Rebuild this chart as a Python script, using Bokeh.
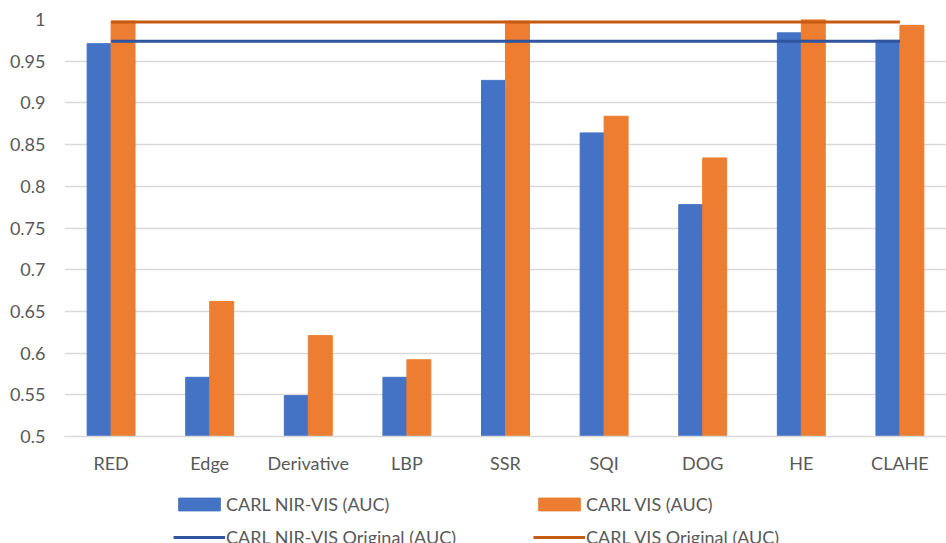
from bokeh.plotting import figure
from bokeh.layouts import column
from bokeh.models import (FactorRange, Range1d, FixedTicker, NumeralTickFormatter,
                          Legend, LegendItem, ColumnDataSource)
from bokeh.transform import dodge
from bokeh.embed import file_html
from bokeh.resources import INLINE

# AUC per preprocessing method
categories = ["RED", "Edge", "Derivative", "LBP", "SSR", "SQI", "DOG", "HE", "CLAHE"]
nir_vis_auc = [0.971, 0.571, 0.549, 0.571, 0.927, 0.864, 0.778, 0.984, 0.975]
vis_auc = [0.998, 0.662, 0.621, 0.592, 0.998, 0.884, 0.834, 1.000, 0.993]

# reference AUC without preprocessing
nir_vis_original = 0.974
vis_original = 0.997

y_ticks = [0.5, 0.55, 0.6, 0.65, 0.7, 0.75, 0.8, 0.85, 0.9, 0.95, 1.0]

BLUE = "#4472C4"
ORANGE = "#ED7D31"
BLUE_DARK = "#2F55A0"
ORANGE_DARK = "#C65A11"
TEXT = "#595959"
GRID = "#D9D9D9"
FONT = "Lato"
FONT_SIZE = "18px"

src = ColumnDataSource(dict(
    cat=categories,
    nir=nir_vis_auc,
    vis=vis_auc,
    nir_orig=[nir_vis_original] * len(categories),
    vis_orig=[vis_original] * len(categories),
))

x_range = FactorRange(*categories, range_padding=-0.0275, range_padding_units="absolute")
y_range = Range1d(0.5, 1.0)

p = figure(width=946, height=480, x_range=x_range, y_range=y_range,
           output_backend="svg", toolbar_location=None,
           min_border_left=64, min_border_right=0, min_border_top=19,
           min_border_bottom=44)
p.outline_line_color = None
p.background_fill_color = "white"
p.border_fill_color = "white"

bw = 0.243


def add_series(fig, visible=True):
    """Bars and reference lines of both models; returns the four renderers."""
    nir = fig.vbar(x=dodge("cat", -bw / 2, range=x_range), top="nir", bottom=0.5,
                   width=bw, source=src, fill_color=BLUE, line_color=BLUE,
                   visible=visible)
    vis = fig.vbar(x=dodge("cat", bw / 2, range=x_range), top="vis", bottom=0.5,
                   width=bw, source=src, fill_color=ORANGE, line_color=ORANGE,
                   visible=visible)
    nir_o = fig.line(x="cat", y="nir_orig", source=src, line_color=BLUE_DARK,
                     line_width=3, visible=visible)
    vis_o = fig.line(x="cat", y="vis_orig", source=src, line_color=ORANGE_DARK,
                     line_width=3, visible=visible)
    return nir, vis, nir_o, vis_o


add_series(p)

# axes
p.yaxis.ticker = FixedTicker(ticks=y_ticks)
p.yaxis.formatter = NumeralTickFormatter(format="0.[00]")
p.yaxis.axis_line_color = None
p.yaxis.major_tick_line_color = None
p.yaxis.minor_tick_line_color = None
p.yaxis.major_tick_out = 0
p.yaxis.major_label_standoff = 19
p.xaxis.axis_line_color = GRID
p.xaxis.axis_line_width = 1.5
p.xaxis.major_tick_line_color = None
p.xaxis.major_tick_out = 0
p.xaxis.major_label_standoff = 15
for ax in (p.xaxis, p.yaxis):
    ax.major_label_text_font = FONT
    ax.major_label_text_font_size = FONT_SIZE
    ax.major_label_text_color = TEXT

p.xgrid.grid_line_color = None
p.ygrid.ticker = FixedTicker(ticks=y_ticks)
p.ygrid.grid_line_color = GRID
p.ygrid.grid_line_width = 1.5

# legend strip under the chart; its hidden renderers supply the swatches
leg_fig = figure(width=946, height=63, output_backend="svg", toolbar_location=None,
                 x_axis_type=None, y_axis_type=None, min_border=0,
                 x_range=x_range, y_range=y_range)
leg_fig.outline_line_color = None
leg_fig.xgrid.visible = False
leg_fig.ygrid.visible = False
sw_nir, sw_vis, sw_nir_o, sw_vis_o = add_series(leg_fig, visible=False)

legend = Legend(
    items=[LegendItem(label="CARL NIR-VIS (AUC)", renderers=[sw_nir]),
           LegendItem(label="CARL VIS (AUC)", renderers=[sw_vis]),
           LegendItem(label="CARL NIR-VIS Original (AUC)", renderers=[sw_nir_o]),
           LegendItem(label="CARL VIS Original (AUC)", renderers=[sw_vis_o])],
    orientation="horizontal", ncols=2, location=(109, -5),
    glyph_width=52, glyph_height=16, label_standoff=1, spacing=11,
    label_width=296, label_height=20, padding=0, margin=0,
    border_line_color=None, background_fill_alpha=0,
    inactive_fill_alpha=0, click_policy="none",
    label_text_font=FONT, label_text_font_size=FONT_SIZE, label_text_color=TEXT)
leg_fig.add_layout(legend)

open("out.html", "w").write(file_html(column(p, leg_fig, spacing=0), INLINE))
